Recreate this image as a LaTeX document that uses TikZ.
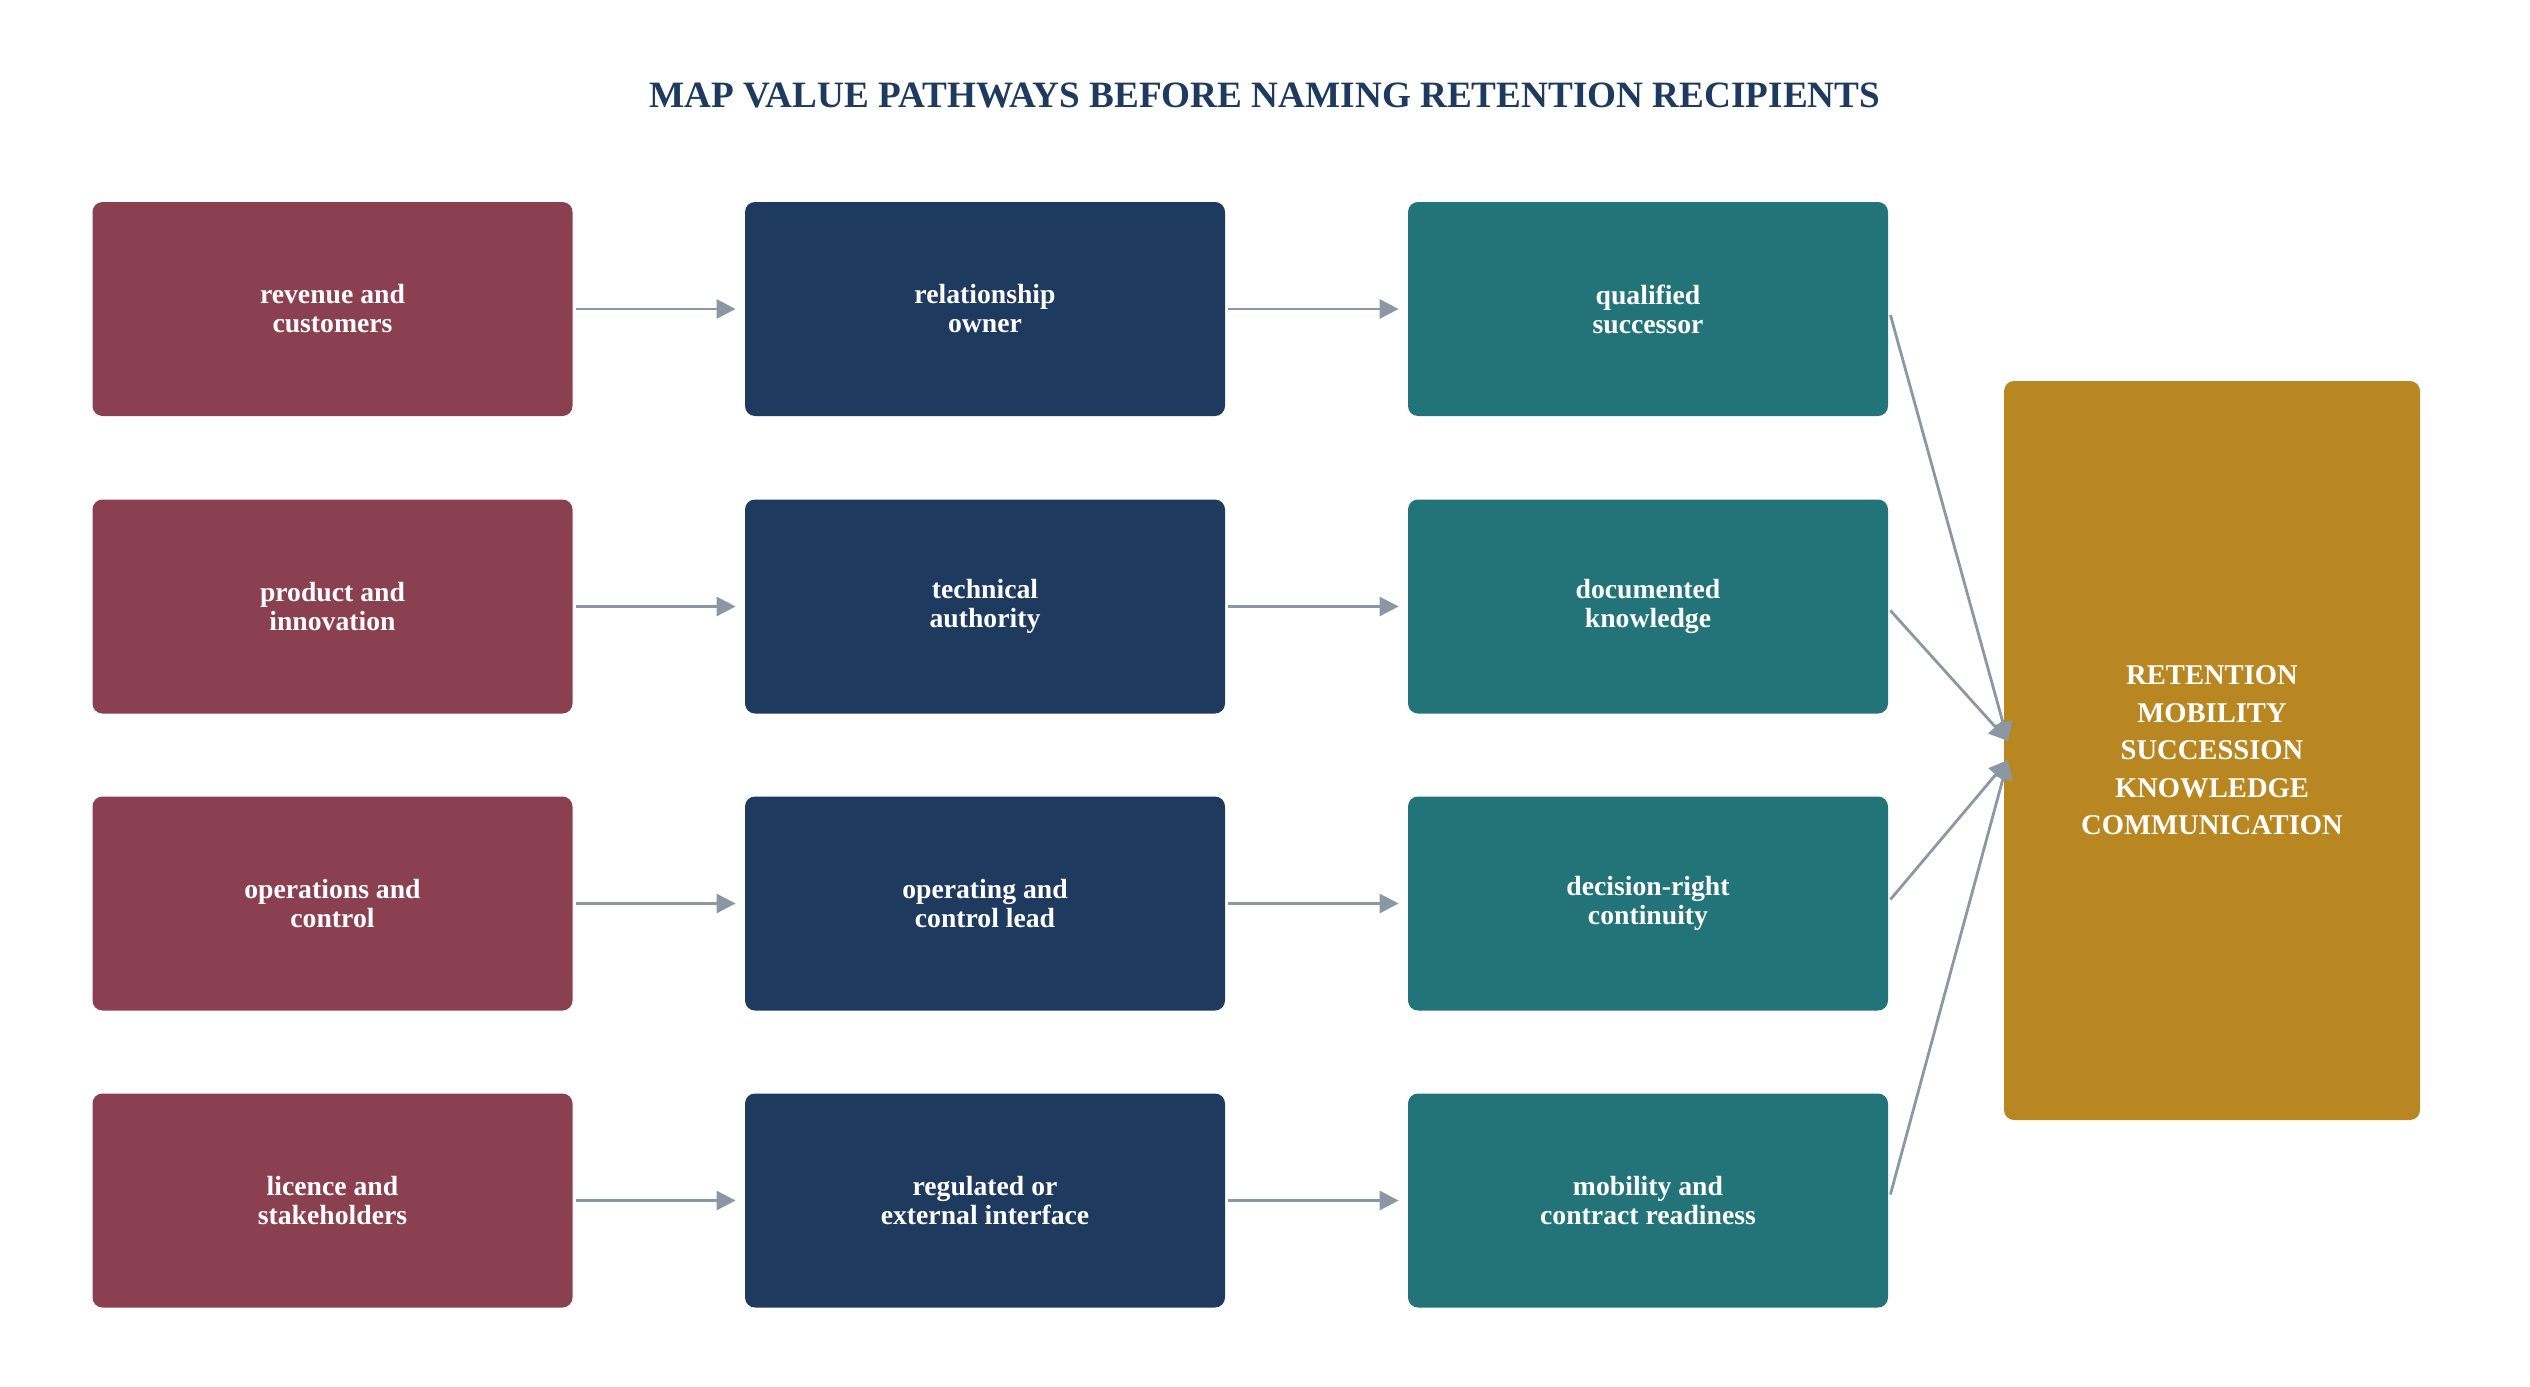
\documentclass[tikz,border=0pt]{standalone}
\usepackage{fontspec}
\setmainfont{Liberation Serif}
\usetikzlibrary{arrows.meta,calc}
\definecolor{boxred}{HTML}{8B4051}
\definecolor{boxnavy}{HTML}{1F3A5F}
\definecolor{boxteal}{HTML}{237479}
\definecolor{boxgold}{HTML}{B88721}
\definecolor{arrowc}{HTML}{8C97A4}
\definecolor{titlec}{HTML}{1F3A5F}
\tikzset{
  card/.style={rectangle, rounded corners=5pt, inner sep=0pt, minimum width=240pt, minimum height=107pt,
    text=white, align=center, font=\fontsize{13.85}{14.5}\selectfont\bfseries},
  redcard/.style={card, fill=boxred},
  navycard/.style={card, fill=boxnavy},
  tealcard/.style={card, fill=boxteal},
  goalcard/.style={rectangle, rounded corners=5pt, inner sep=0pt, minimum width=208pt, minimum height=369.5pt,
    fill=boxgold, text=white, align=center, font=\fontsize{14.3}{18.75}\selectfont\bfseries},
  arr/.style={draw=arrowc, line width=1.4pt, -{Triangle[length=9.5pt,width=9.5pt]}},
  flow/.style={arr, shorten <=1.5pt, shorten >=4.5pt},
}
\begin{document}
\begin{tikzpicture}[x=0.5pt,y=-0.5pt]
\useasboundingbox (0,0) rectangle (2530,1386);
\node[anchor=base, text=titlec, font=\fontsize{18.6}{22}\selectfont\bfseries] (title) at (1265,107.7)
  {MAP VALUE PATHWAYS BEFORE NAMING RETENTION RECIPIENTS};

\node[redcard] (a1) at (332.5,309) {revenue and\\customers};
\node[redcard] (a2) at (332.5,606.5) {product and\\innovation};
\node[redcard] (a3) at (332.5,903.5) {operations and\\control};
\node[redcard] (a4) at (332.5,1200.5) {licence and\\stakeholders};

\node[navycard] (b1) at (985,309) {relationship\\owner};
\node[navycard] (b2) at (985,606.5) {technical\\authority};
\node[navycard] (b3) at (985,903.5) {operating and\\control lead};
\node[navycard] (b4) at (985,1200.5) {regulated or\\external interface};

\node[tealcard] (c1) at (1648,309) {qualified\\successor};
\node[tealcard] (c2) at (1648,606.5) {documented\\knowledge};
\node[tealcard] (c3) at (1648,903.5) {decision-right\\continuity};
\node[tealcard] (c4) at (1648,1200.5) {mobility and\\contract readiness};

\node[goalcard] (r) at (2212,750.5) {RETENTION\\MOBILITY\\SUCCESSION\\KNOWLEDGE\\COMMUNICATION};

\foreach \i in {1,2,3,4}{
  \draw[flow] (a\i.east) -- (b\i.west);
  \draw[flow] (b\i.east) -- (c\i.west);
}

\coordinate (tu) at (2008,741);
\coordinate (tl) at (2008,760);
\draw[arr] ($(c1.east)+(2,6)$) -- (tu);
\draw[arr] ($(c2.east)+(2,4)$) -- (tu);
\draw[arr] ($(c3.east)+(2,-4)$) -- (tl);
\draw[arr] ($(c4.east)+(2,-6)$) -- (tl);
\end{tikzpicture}
\end{document}
